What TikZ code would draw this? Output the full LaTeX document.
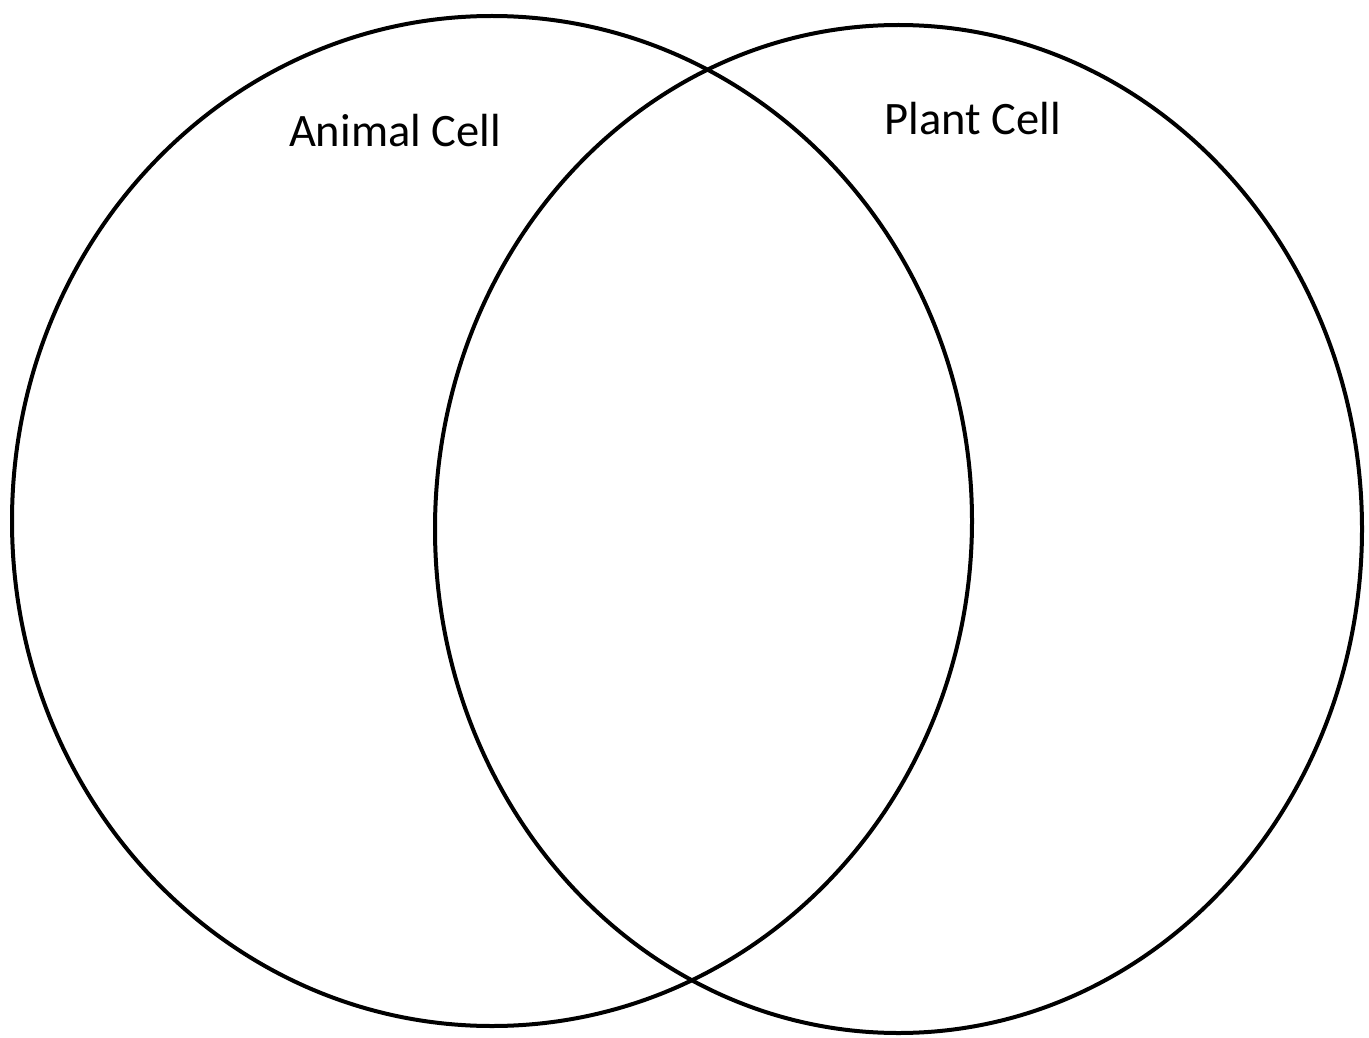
\documentclass[tikz,border=0pt]{standalone}
\usepackage{fontspec}
\setmainfont{Carlito}
\usepackage{tikz}
\usetikzlibrary{positioning}

\begin{document}
\begin{tikzpicture}[
		x=1pt, y=-1pt,
		setline/.style={draw=black, line width=4pt},
		setlabel/.style={anchor=base, inner sep=0pt, font=\fontsize{46.5}{56}\selectfont}
		]
		
		\useasboundingbox (0,0) rectangle (1369,1038);
		
		% the two sets
		\coordinate (animalc) at (492,521);
		\coordinate (plantc) at (898.5,529);
		\draw[setline] (animalc) ellipse [x radius=480, y radius=505];
		\draw[setline] (plantc) ellipse [x radius=463.5, y radius=504];
		
		% set names
		\node[setlabel] (animal) at (395,147) {Animal Cell};
		\node[setlabel] (plant) at (973,135) {Plant Cell};
		
	\end{tikzpicture}
\end{document}
